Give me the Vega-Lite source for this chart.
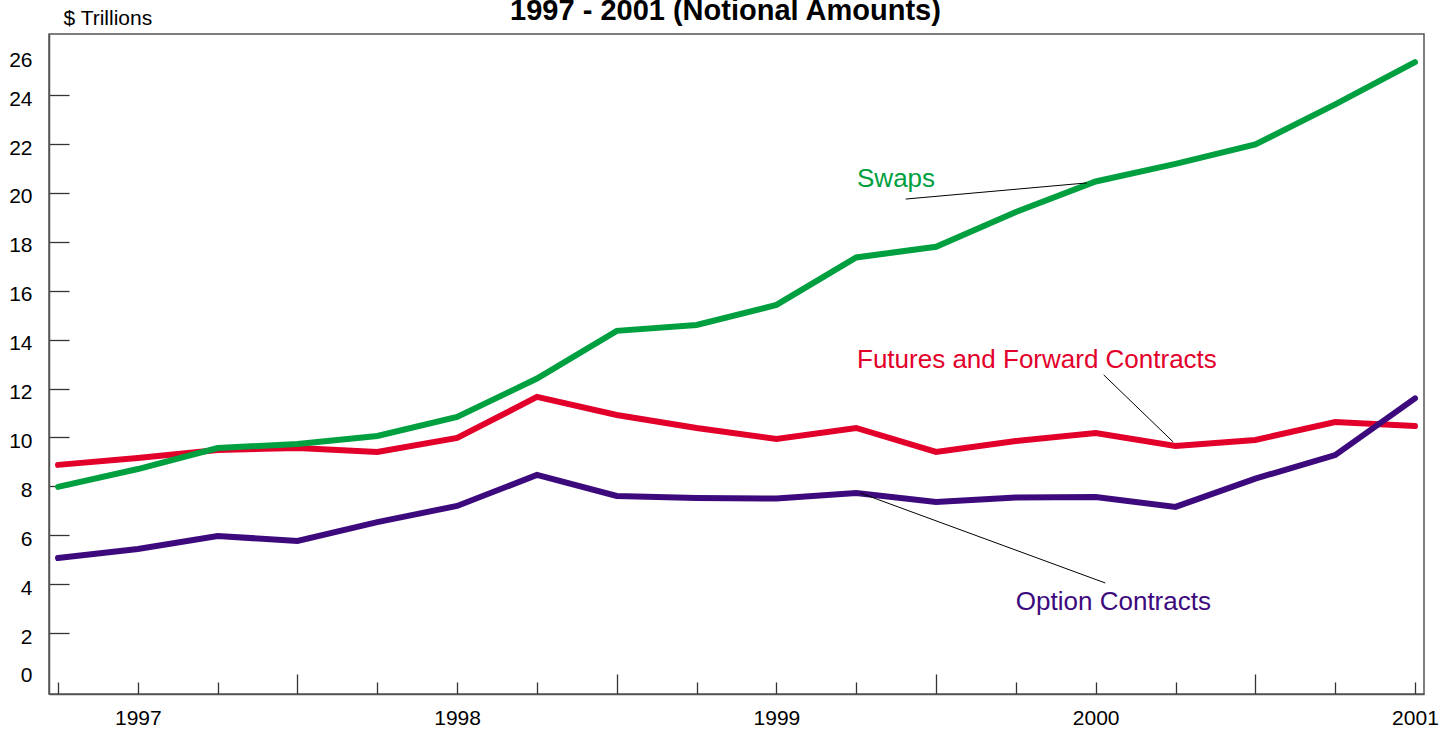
{
  "$schema": "https://vega.github.io/schema/vega-lite/v6.json",
  "autosize": "none",
  "width": 1375,
  "height": 660,
  "padding": {"left": 49, "top": 34, "right": 26, "bottom": 36},
  "background": "white",
  "title": {
    "text": "1997 - 2001 (Notional Amounts)",
    "font": "Liberation Sans",
    "fontSize": 29,
    "fontWeight": "bold",
    "color": "black",
    "anchor": "middle",
    "dx": -11,
    "offset": -19
  },
  "config": {
    "view": {"stroke": "#555", "strokeWidth": 1.5},
    "font": "Liberation Sans"
  },
  "datasets": {
    "series": [
      {"series": "Futures and Forward Contracts", "q": 0, "value": 8.88},
      {"series": "Futures and Forward Contracts", "q": 1, "value": 9.16},
      {"series": "Futures and Forward Contracts", "q": 2, "value": 9.49},
      {"series": "Futures and Forward Contracts", "q": 3, "value": 9.57},
      {"series": "Futures and Forward Contracts", "q": 4, "value": 9.41},
      {"series": "Futures and Forward Contracts", "q": 5, "value": 9.98},
      {"series": "Futures and Forward Contracts", "q": 6, "value": 11.66},
      {"series": "Futures and Forward Contracts", "q": 7, "value": 10.92},
      {"series": "Futures and Forward Contracts", "q": 8, "value": 10.39},
      {"series": "Futures and Forward Contracts", "q": 9, "value": 9.94},
      {"series": "Futures and Forward Contracts", "q": 10, "value": 10.39},
      {"series": "Futures and Forward Contracts", "q": 11, "value": 9.41},
      {"series": "Futures and Forward Contracts", "q": 12, "value": 9.86},
      {"series": "Futures and Forward Contracts", "q": 13, "value": 10.18},
      {"series": "Futures and Forward Contracts", "q": 14, "value": 9.65},
      {"series": "Futures and Forward Contracts", "q": 15, "value": 9.9},
      {"series": "Futures and Forward Contracts", "q": 16, "value": 10.63},
      {"series": "Futures and Forward Contracts", "q": 17, "value": 10.47},
      {"series": "Swaps", "q": 0, "value": 7.98},
      {"series": "Swaps", "q": 1, "value": 8.71},
      {"series": "Swaps", "q": 2, "value": 9.57},
      {"series": "Swaps", "q": 3, "value": 9.73},
      {"series": "Swaps", "q": 4, "value": 10.06},
      {"series": "Swaps", "q": 5, "value": 10.84},
      {"series": "Swaps", "q": 6, "value": 12.41},
      {"series": "Swaps", "q": 7, "value": 14.36},
      {"series": "Swaps", "q": 8, "value": 14.6},
      {"series": "Swaps", "q": 9, "value": 15.42},
      {"series": "Swaps", "q": 10, "value": 17.36},
      {"series": "Swaps", "q": 11, "value": 17.8},
      {"series": "Swaps", "q": 12, "value": 19.22},
      {"series": "Swaps", "q": 13, "value": 20.47},
      {"series": "Swaps", "q": 14, "value": 21.19},
      {"series": "Swaps", "q": 15, "value": 21.98},
      {"series": "Swaps", "q": 16, "value": 23.62},
      {"series": "Swaps", "q": 17, "value": 25.35},
      {"series": "Option Contracts", "q": 0, "value": 5.07},
      {"series": "Option Contracts", "q": 1, "value": 5.44},
      {"series": "Option Contracts", "q": 2, "value": 5.97},
      {"series": "Option Contracts", "q": 3, "value": 5.77},
      {"series": "Option Contracts", "q": 4, "value": 6.54},
      {"series": "Option Contracts", "q": 5, "value": 7.2},
      {"series": "Option Contracts", "q": 6, "value": 8.47},
      {"series": "Option Contracts", "q": 7, "value": 7.61},
      {"series": "Option Contracts", "q": 8, "value": 7.53},
      {"series": "Option Contracts", "q": 9, "value": 7.5},
      {"series": "Option Contracts", "q": 10, "value": 7.73},
      {"series": "Option Contracts", "q": 11, "value": 7.36},
      {"series": "Option Contracts", "q": 12, "value": 7.55},
      {"series": "Option Contracts", "q": 13, "value": 7.57},
      {"series": "Option Contracts", "q": 14, "value": 7.16},
      {"series": "Option Contracts", "q": 15, "value": 8.32},
      {"series": "Option Contracts", "q": 16, "value": 9.28},
      {"series": "Option Contracts", "q": 17, "value": 11.6}
    ],
    "leaders": [
      {"series": "Swaps", "q": 10.62, "value": 19.75, "q2": 12.89, "value2": 20.41},
      {"series": "Futures and Forward Contracts", "q": 13.1, "value": 12.56, "q2": 13.97, "value2": 9.82},
      {"series": "Option Contracts", "q": 10.05, "value": 7.73, "q2": 13.12, "value2": 4.05}
    ],
    "labels": [
      {"series": "Swaps", "q": 10.01, "value": 20.25, "label": "Swaps"},
      {"series": "Futures and Forward Contracts", "q": 10.01, "value": 12.84, "label": "Futures and Forward Contracts"},
      {"series": "Option Contracts", "q": 12.0, "value": 2.94, "label": "Option Contracts"}
    ]
  },
  "encoding": {
    "x": {
      "field": "q",
      "type": "quantitative",
      "scale": {"domain": [-0.113, 17.113], "nice": false, "zero": false},
      "axis": {
        "title": null,
        "values": [0,1,2,3,4,5,6,7,8,9,10,11,12,13,14,15,16,17],
        "labelExpr": "datum.value == 1 ? '1997' : datum.value == 5 ? '1998' : datum.value == 9 ? '1999' : datum.value == 13 ? '2000' : datum.value == 17 ? '2001' : ''",
        "labelFontSize": 21,
        "labelColor": "black",
        "labelFlush": false,
        "labelOverlap": false,
        "labelPadding": 25,
        "tickSize": {"condition": {"test": "datum.value == 3 || datum.value == 7 || datum.value == 11 || datum.value == 15", "value": -20}, "value": -12},
        "tickColor": "#333",
        "tickWidth": 1.3,
        "domainColor": "#555",
        "domainWidth": 1.5,
        "grid": false
      }
    },
    "y": {
      "field": "value",
      "type": "quantitative",
      "scale": {"domain": [-0.49, 26.5], "nice": false, "zero": false},
      "axis": {
        "title": "$ Trillions",
        "titleAngle": 0,
        "titleAlign": "left",
        "titleBaseline": "alphabetic",
        "titleX": 14,
        "titleY": -10,
        "titleFontSize": 21,
        "titleFontWeight": "normal",
        "titleColor": "black",
        "values": [0,2,4,6,8,10,12,14,16,18,20,22,24,26],
        "labelFontSize": 21,
        "labelColor": "black",
        "labelFlush": false,
        "labelOverlap": false,
        "labelPadding": 37,
        "labelOffset": {"condition": [{"test": "datum.value == 0", "value": -7}, {"test": "datum.value == 26", "value": 14}], "value": 4},
        "tickSize": -20,
        "tickColor": "#333",
        "tickWidth": 1.3,
        "tickOpacity": {"condition": {"test": "datum.value == 0 || datum.value == 26", "value": 0}, "value": 1},
        "domainColor": "#555",
        "domainWidth": 1.5,
        "grid": false
      }
    }
  },
  "layer": [
    {
      "data": {"name": "series"},
      "mark": {"type": "line", "strokeWidth": 6, "strokeCap": "round"},
      "encoding": {
        "color": {
          "field": "series",
          "type": "nominal",
          "scale": {"domain": ["Futures and Forward Contracts", "Swaps", "Option Contracts"], "range": ["#E2002B", "#00A040", "#3D0A7D"]},
          "legend": null
        }
      }
    },
    {
      "data": {"name": "leaders"},
      "mark": {"type": "rule", "color": "black", "strokeWidth": 1},
      "encoding": {
        "x2": {"field": "q2"},
        "y2": {"field": "value2"}
      }
    },
    {
      "data": {"name": "labels"},
      "mark": {"type": "text", "align": "left", "baseline": "alphabetic", "fontSize": 26, "font": "Liberation Sans"},
      "encoding": {
        "text": {"field": "label"},
        "color": {"field": "series", "type": "nominal", "legend": null}
      }
    }
  ]
}
